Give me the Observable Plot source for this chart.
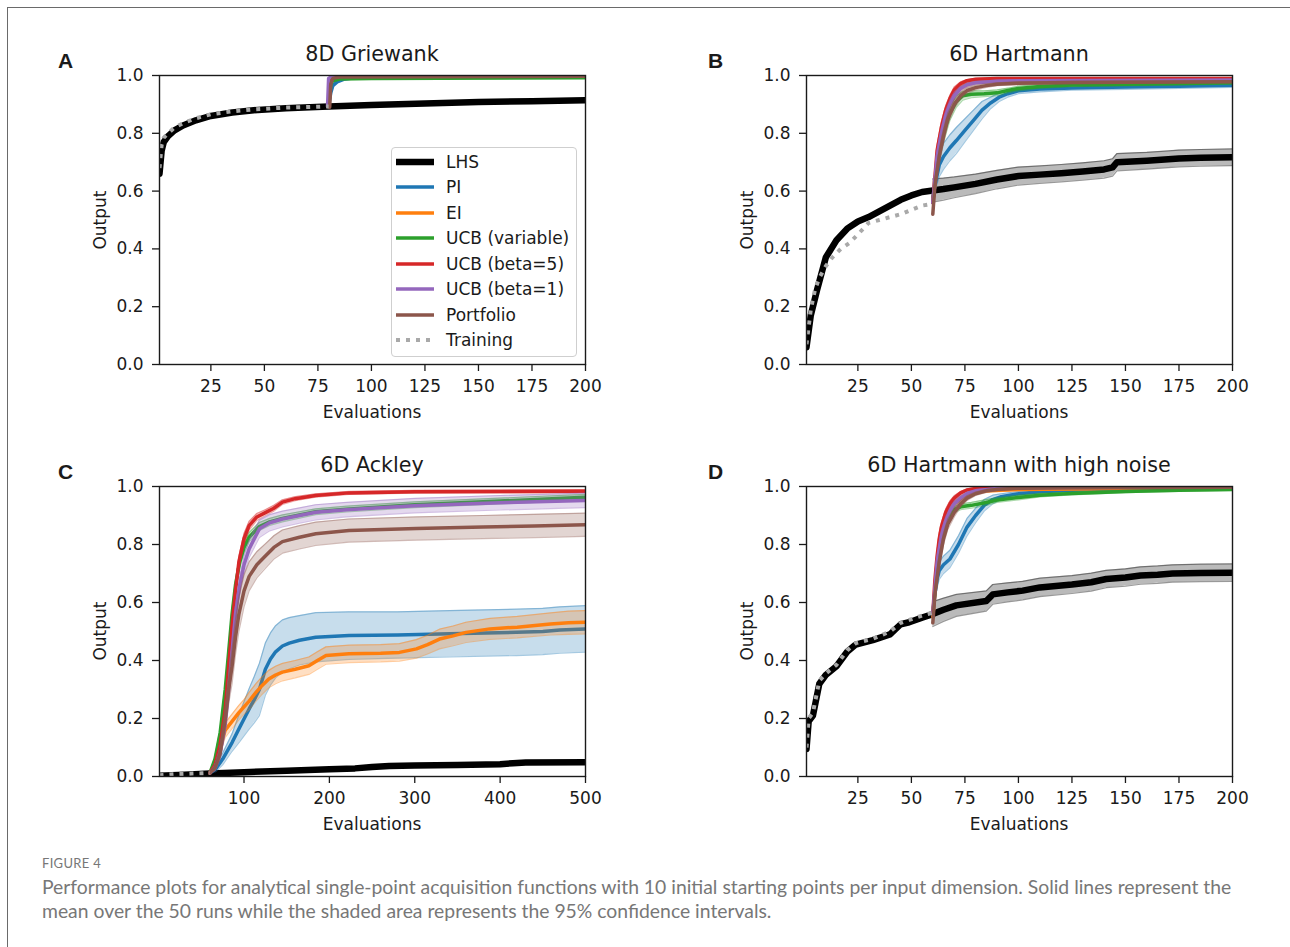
<!DOCTYPE html>
<html><head><meta charset="utf-8">
<script src="https://cdn.jsdelivr.net/npm/d3@7"></script>
<script src="https://cdn.jsdelivr.net/npm/@observablehq/plot@0.6"></script>
<style>
html,body{margin:0;padding:0;background:#fff;}
#root{position:relative;width:1290px;height:947px;overflow:hidden;font-family:"DejaVu Sans",sans-serif;color:#1a1a1a;background:#fff;}
.abs{position:absolute;white-space:nowrap;line-height:1;}
.c{transform:translate(-50%,-50%);}
.letter{font-family:"Liberation Sans",Arial,sans-serif;font-weight:bold;font-size:21px;transform:translate(0,-50%);}
.title{font-size:20.7px;}
.lab{font-size:17px;}
.rot{transform:translate(-50%,-50%) rotate(-90deg);}
.legend{position:absolute;border:1.3px solid #cfcfcf;border-radius:4px;background:rgba(255,255,255,0.85);box-sizing:border-box;}
.cap{font-family:Lato,"Open Sans",sans-serif;color:#777777;}
</style></head><body><div id="root"></div>
<script>
// ---------- labels ----------
const seriesNames = ["LHS","PI","EI","UCB (variable)","UCB (beta=5)","UCB (beta=1)","Portfolio","Training"];
const seriesColors = ["#000000","#1f77b4","#ff7f0e","#2ca02c","#d62728","#9467bd","#8c564b","#a9a9a9"];
const panelLetters = ["A","B","C","D"];
const panelTitles = ["8D Griewank","6D Hartmann","6D Ackley","6D Hartmann with high noise"];
const yTicks = [0,0.2,0.4,0.6,0.8,1.0];
const xTicks200 = [25,50,75,100,125,150,175,200];
const xTicks500 = [100,200,300,400,500];
const xLabel = "Evaluations";
const yLabel = "Output";
const figureLabel = "FIGURE 4";
const captionLines = [
  "Performance plots for analytical single-point acquisition functions with 10 initial starting points per input dimension. Solid lines represent the",
  "mean over the 50 runs while the shaded area represents the 95% confidence intervals."
];

// ---------- data: [evaluation, mean, ci half-width] ----------
// A: 8D Griewank
const griewankLHS = [[1,0.66],[2,0.74],[3,0.77],[5,0.79],[8,0.81],[12,0.827],[18,0.845],[25,0.86],[35,0.872],[45,0.88],[60,0.887],[80,0.893],[100,0.898],[125,0.903],[150,0.908],[175,0.911],[200,0.914]];
const griewankPI = [[80,0.893],[81,0.94],[82,0.965],[84,0.978],[87,0.987],[92,0.992],[100,0.994],[150,0.996],[200,0.997]];
const griewankEI = [[80,0.893],[81,0.98],[82,0.99],[85,0.994],[100,0.996],[200,0.997]];
const griewankUCBv = [[80,0.893],[81,0.97],[82,0.982],[85,0.988],[100,0.99],[200,0.992]];
const griewankUCB5 = [[80,0.893],[80.7,0.985],[82,0.994],[85,0.997],[200,0.998]];
const griewankUCB1 = [[79.5,0.893],[80,0.99],[81,0.995],[85,0.997],[200,0.998]];
const griewankPortfolio = [[80.5,0.89],[81,0.97],[82,0.99],[85,0.995],[200,0.997]];
const griewankTraining = [[1,0.68],[2,0.76],[3,0.785],[5,0.8],[8,0.82],[12,0.835],[18,0.852],[25,0.866],[35,0.876],[45,0.883],[60,0.889],[80,0.893]];

// B: 6D Hartmann
const hartmannLHS = [[1,0.06],[3,0.17],[6,0.26],[10,0.37],[15,0.43],[20,0.47],[25,0.495],[30,0.51],[35,0.53],[40,0.55],[45,0.57],[50,0.585],[55,0.597],[60,0.602,0.04],[65,0.607,0.038],[70,0.613,0.036],[80,0.625,0.034],[90,0.64,0.032],[100,0.652,0.031],[110,0.657,0.03],[120,0.662,0.03],[130,0.668,0.03],[140,0.675,0.03],[144,0.682,0.03],[146,0.7,0.03],[160,0.705,0.029],[170,0.71,0.029],[175,0.713,0.029],[185,0.715,0.029],[200,0.717,0.029]];
const hartmannPI = [[60,0.58,0],[61,0.62,0.02],[63,0.69,0.04],[65,0.72,0.045],[68,0.75,0.045],[71,0.775,0.045],[75,0.81,0.04],[79,0.845,0.035],[83,0.88,0.03],[87,0.905,0.02],[91,0.925,0.015],[95,0.937,0.012],[100,0.947,0.01],[110,0.953,0.01],[125,0.957,0.008],[150,0.96,0.008],[175,0.963,0.008],[200,0.966,0.007]];
const hartmannEI = [[60,0.56,0],[62,0.7,0.02],[65,0.83,0.02],[68,0.91,0.015],[72,0.955,0.01],[76,0.97,0.008],[80,0.978,0.006],[90,0.982,0.005],[100,0.984,0.005],[125,0.985,0.004],[150,0.986,0.004],[200,0.987,0.004]];
const hartmannUCBv = [[60,0.56,0],[62,0.7,0.03],[65,0.8,0.03],[68,0.87,0.025],[71,0.91,0.02],[74,0.93,0.015],[78,0.935,0.012],[84,0.937,0.01],[90,0.94,0.01],[95,0.948,0.008],[100,0.955,0.008],[110,0.962,0.007],[125,0.967,0.006],[150,0.97,0.006],[200,0.975,0.005]];
const hartmannUCB5 = [[60,0.56,0],[62,0.74,0.02],[64,0.82,0.02],[66,0.88,0.015],[68,0.92,0.012],[70,0.95,0.01],[73,0.972,0.006],[76,0.982,0.004],[80,0.987,0.003],[90,0.99,0.003],[100,0.99,0.003],[150,0.99,0.003],[200,0.99,0.003]];
const hartmannUCB1 = [[60,0.56,0],[62,0.72,0.02],[64,0.8,0.02],[66,0.86,0.018],[68,0.9,0.015],[70,0.93,0.012],[73,0.955,0.008],[76,0.968,0.006],[80,0.975,0.005],[90,0.98,0.004],[100,0.982,0.004],[150,0.983,0.004],[200,0.984,0.004]];
const hartmannPortfolio = [[60,0.52,0],[61,0.62,0.02],[63,0.72,0.025],[65,0.79,0.025],[67,0.85,0.02],[70,0.9,0.015],[73,0.93,0.012],[76,0.948,0.01],[80,0.958,0.008],[85,0.965,0.006],[90,0.97,0.005],[100,0.973,0.005],[125,0.976,0.004],[150,0.977,0.004],[200,0.978,0.004]];
const hartmannTraining = [[1,0.07],[3,0.19],[5,0.26],[7,0.3],[10,0.34],[13,0.37],[17,0.4],[21,0.42],[25,0.45],[30,0.49],[35,0.5],[40,0.51],[45,0.52],[50,0.535],[55,0.55],[60,0.556]];

// C: 6D Ackley
const ackleyLHS = [[1,0.003],[30,0.006],[60,0.01],[100,0.015],[150,0.02],[200,0.025],[230,0.028],[250,0.033],[270,0.036],[300,0.038],[350,0.04],[400,0.042],[415,0.046],[430,0.048],[500,0.049]];
const ackleyPI = [[60,0.012,0],[67,0.027,0.01],[75,0.06,0.02],[86,0.117,0.03],[95,0.17,0.05],[106,0.233,0.07],[112,0.265,0.08],[118,0.3,0.09],[125,0.37,0.09],[131,0.405,0.09],[137,0.43,0.09],[145,0.45,0.09],[153,0.46,0.088],[165,0.47,0.085],[184,0.48,0.085],[223,0.486,0.082],[280,0.488,0.08],[341,0.492,0.08],[419,0.497,0.08],[450,0.5,0.08],[470,0.505,0.08],[500,0.509,0.08]];
const ackleyEI = [[60,0.012,0],[67,0.048,0.015],[72,0.1,0.02],[78,0.16,0.025],[86,0.19,0.025],[94,0.22,0.025],[100,0.24,0.025],[106,0.26,0.03],[114,0.29,0.03],[120,0.31,0.03],[129,0.336,0.03],[137,0.35,0.03],[145,0.36,0.03],[160,0.37,0.03],[176,0.382,0.03],[186,0.4,0.03],[196,0.417,0.03],[223,0.423,0.03],[260,0.425,0.03],[282,0.428,0.03],[302,0.44,0.032],[315,0.455,0.032],[329,0.474,0.034],[345,0.485,0.034],[360,0.497,0.035],[388,0.509,0.036],[420,0.515,0.037],[459,0.526,0.038],[480,0.53,0.04],[500,0.532,0.04]];
const ackleyUCBv = [[60,0.012,0],[66,0.06,0.01],[72,0.15,0.015],[78,0.3,0.02],[82,0.43,0.02],[86,0.56,0.02],[90,0.66,0.02],[95,0.74,0.02],[100,0.79,0.018],[106,0.825,0.016],[118,0.862,0.014],[130,0.878,0.012],[145,0.89,0.012],[165,0.902,0.011],[184,0.913,0.01],[220,0.922,0.01],[300,0.937,0.01],[400,0.95,0.01],[500,0.963,0.01]];
const ackleyUCB5 = [[60,0.012,0],[66,0.04,0.005],[72,0.11,0.01],[78,0.23,0.02],[82,0.38,0.02],[86,0.52,0.02],[90,0.64,0.02],[94,0.74,0.02],[100,0.82,0.018],[106,0.865,0.015],[115,0.895,0.012],[125,0.91,0.01],[135,0.925,0.01],[145,0.946,0.008],[160,0.958,0.007],[184,0.969,0.006],[223,0.978,0.005],[300,0.982,0.005],[400,0.983,0.005],[500,0.984,0.005]];
const ackleyUCB1 = [[60,0.012,0],[66,0.03,0.01],[72,0.08,0.02],[78,0.18,0.03],[82,0.3,0.03],[86,0.43,0.03],[90,0.56,0.03],[95,0.66,0.03],[100,0.73,0.03],[106,0.785,0.03],[118,0.854,0.03],[130,0.875,0.028],[145,0.888,0.027],[165,0.9,0.026],[184,0.911,0.026],[220,0.92,0.025],[300,0.934,0.025],[400,0.944,0.025],[500,0.952,0.025]];
const ackleyPortfolio = [[60,0.012,0],[66,0.03,0.01],[72,0.08,0.02],[78,0.2,0.04],[82,0.3,0.05],[86,0.38,0.06],[90,0.48,0.06],[94,0.56,0.06],[100,0.64,0.055],[106,0.69,0.05],[115,0.73,0.045],[125,0.76,0.042],[135,0.79,0.04],[145,0.81,0.04],[165,0.825,0.04],[184,0.837,0.04],[223,0.848,0.04],[302,0.855,0.04],[380,0.86,0.04],[440,0.864,0.04],[500,0.868,0.04]];
const ackleyTraining = [[1,0.004],[10,0.006],[20,0.008],[30,0.009],[40,0.01],[50,0.011],[60,0.012]];

// D: 6D Hartmann with high noise
const noisyLHS = [[1,0.095],[2,0.19],[4,0.21],[7,0.32],[10,0.35],[15,0.38],[20,0.43],[24,0.455],[32,0.47],[40,0.49],[45,0.525],[49,0.532],[55,0.548],[60,0.56,0.043],[65,0.575,0.04],[71,0.59,0.038],[85,0.605,0.035],[88,0.628,0.034],[95,0.635,0.033],[102,0.641,0.032],[110,0.652,0.032],[125,0.662,0.031],[134,0.67,0.031],[141,0.681,0.03],[150,0.686,0.03],[157,0.693,0.03],[165,0.696,0.03],[172,0.7,0.03],[185,0.702,0.03],[200,0.703,0.03]];
const noisyPI = [[60,0.56,0],[61,0.63,0.02],[62,0.68,0.03],[63,0.71,0.03],[65,0.73,0.03],[68,0.75,0.03],[72,0.8,0.03],[76,0.86,0.03],[80,0.9,0.025],[84,0.935,0.02],[88,0.955,0.015],[92,0.965,0.01],[100,0.975,0.008],[110,0.982,0.006],[125,0.987,0.005],[150,0.991,0.004],[175,0.993,0.004],[200,0.995,0.004]];
const noisyEI = [[60,0.55,0],[62,0.72,0.02],[64,0.82,0.02],[67,0.9,0.015],[70,0.94,0.01],[74,0.965,0.008],[78,0.978,0.006],[85,0.985,0.005],[100,0.99,0.004],[150,0.993,0.003],[200,0.995,0.003]];
const noisyUCBv = [[60,0.56,0],[62,0.72,0.02],[64,0.82,0.02],[66,0.87,0.015],[68,0.9,0.012],[70,0.92,0.01],[73,0.93,0.01],[78,0.935,0.01],[85,0.945,0.01],[90,0.953,0.008],[100,0.962,0.008],[110,0.97,0.006],[125,0.976,0.005],[150,0.983,0.004],[175,0.987,0.004],[200,0.99,0.003]];
const noisyUCB5 = [[60,0.56,0],[61,0.68,0.02],[62,0.76,0.02],[63,0.82,0.02],[64,0.86,0.015],[66,0.91,0.012],[68,0.94,0.01],[70,0.96,0.008],[73,0.978,0.005],[76,0.988,0.004],[80,0.993,0.003],[90,0.996,0.002],[100,0.997,0.002],[200,0.998,0.002]];
const noisyUCB1 = [[60,0.56,0],[62,0.74,0.02],[64,0.83,0.02],[66,0.88,0.015],[68,0.915,0.012],[70,0.94,0.01],[73,0.96,0.008],[76,0.975,0.006],[80,0.985,0.004],[90,0.993,0.003],[100,0.996,0.002],[200,0.998,0.002]];
const noisyPortfolio = [[60,0.53,0],[61,0.63,0.02],[63,0.74,0.025],[65,0.82,0.02],[67,0.87,0.018],[70,0.91,0.015],[73,0.94,0.01],[76,0.96,0.008],[80,0.975,0.006],[85,0.985,0.005],[90,0.99,0.004],[100,0.994,0.003],[125,0.996,0.002],[200,0.997,0.002]];
const noisyTraining = [[1,0.1],[2,0.2],[4,0.22],[7,0.33],[10,0.355],[15,0.385],[20,0.435],[24,0.46],[32,0.475],[40,0.5],[45,0.53],[49,0.54],[55,0.555],[60,0.565]];

// ---------- layout (pixel placement of each panel's frame) ----------
const panels = [
  {series:[griewankLHS,griewankPI,griewankEI,griewankUCBv,griewankUCB5,griewankUCB1,griewankPortfolio,griewankTraining], xDomain:[1,200], xTicks:xTicks200, frame:[159,75,585,364], letterX:58, legend:true},
  {series:[hartmannLHS,hartmannPI,hartmannEI,hartmannUCBv,hartmannUCB5,hartmannUCB1,hartmannPortfolio,hartmannTraining], xDomain:[1,200], xTicks:xTicks200, frame:[806,75,1232,364], letterX:708},
  {series:[ackleyLHS,ackleyPI,ackleyEI,ackleyUCBv,ackleyUCB5,ackleyUCB1,ackleyPortfolio,ackleyTraining], xDomain:[1,500], xTicks:xTicks500, frame:[159,486,585,776], letterX:58},
  {series:[noisyLHS,noisyPI,noisyEI,noisyUCBv,noisyUCB5,noisyUCB1,noisyPortfolio,noisyTraining], xDomain:[1,200], xTicks:xTicks200, frame:[806,486,1232,776], letterX:708}
];
const lineWidths = [6.5,3.5,3.5,3.5,3.5,3.5,3.5,4];
const root = document.getElementById("root");

function addDiv(cls, text, left, top, extra) {
  const d = document.createElement("div");
  d.className = "abs " + cls;
  d.textContent = text;
  d.style.left = left + "px"; d.style.top = top + "px";
  if (extra) Object.assign(d.style, extra);
  root.appendChild(d);
  return d;
}

// figure border
const border = document.createElement("div");
Object.assign(border.style, {position:"absolute", left:"7px", top:"7px", width:"1300px", height:"960px", borderTop:"1.5px solid #6a6a6a", borderLeft:"1.5px solid #6a6a6a"});
root.appendChild(border);

const ML = 70, MR = 20, MT = 10, MB = 40;
panels.forEach((p, pi) => {
  const [fl, ft, fr, fb] = p.frame;
  const W = fr - fl + ML + MR, H = fb - ft + MT + MB;
  const marks = [];
  p.series.forEach((data, i) => {
    const rows = data.map(d => ({x: d[0], y: d[1]}));
    const band = data.filter(d => d.length > 2).map(d => ({x: d[0], lo: d[1] - d[2], hi: d[1] + d[2]}));
    const col = seriesColors[i];
    if (band.length) {
      marks.push(Plot.areaY(band, {x: "x", y1: "lo", y2: "hi", fill: col, fillOpacity: i === 0 ? 0.27 : 0.25, clip: true}));
      marks.push(Plot.line(band, {x: "x", y: "lo", stroke: col, strokeOpacity: 0.4, strokeWidth: 1.2, clip: true}));
      marks.push(Plot.line(band, {x: "x", y: "hi", stroke: col, strokeOpacity: 0.4, strokeWidth: 1.2, clip: true}));
    }
    marks.push(Plot.line(rows, {x: "x", y: "y", stroke: col, strokeWidth: lineWidths[i],
      strokeDasharray: i === 7 ? "4,6" : null, strokeLinecap: i === 7 ? "butt" : "round", strokeLinejoin: "round", clip: true}));
  });
  const svg = Plot.plot({
    width: W, height: H,
    marginLeft: ML, marginRight: MR, marginTop: MT, marginBottom: MB,
    x: {domain: p.xDomain},
    y: {domain: [0, 1]},
    style: {fontFamily: "DejaVu Sans", fontSize: "17px", color: "#1a1a1a", background: "transparent", overflow: "visible"},
    marks: [
      ...marks,
      Plot.frame({stroke: "#1a1a1a", strokeWidth: 1.4}),
      Plot.axisX({ticks: p.xTicks, tickSize: 7, tickPadding: 8, label: null, strokeWidth: 1.3}),
      Plot.axisY({ticks: yTicks, tickSize: 7, tickPadding: 9, tickFormat: d => d.toFixed(1), label: null, strokeWidth: 1.3})
    ]
  });
  svg.style.position = "absolute";
  svg.style.left = (fl - ML) + "px";
  svg.style.top = (ft - MT) + "px";
  svg.style.maxWidth = "none";
  root.appendChild(svg);

  const cx = (fl + fr) / 2, cy = (ft + fb) / 2;
  addDiv("title c", panelTitles[pi], cx, ft - 21);
  addDiv("letter", panelLetters[pi], p.letterX, ft - 15);
  addDiv("lab c", xLabel, cx, fb + 48);
  addDiv("lab rot", yLabel, fl - 59, cy);

  if (p.legend) {
    const lg = document.createElement("div");
    lg.className = "legend";
    Object.assign(lg.style, {left: "391px", top: "147px", width: "186px", height: "210px"});
    root.appendChild(lg);
    seriesNames.forEach((name, i) => {
      const y = 161.5 + i * 25.5;
      const sw = document.createElementNS("http://www.w3.org/2000/svg", "svg");
      sw.setAttribute("width", 40); sw.setAttribute("height", 12);
      Object.assign(sw.style, {position: "absolute", left: "395px", top: (y - 6) + "px"});
      const ln = document.createElementNS("http://www.w3.org/2000/svg", "line");
      ln.setAttribute("x1", 1); ln.setAttribute("x2", 39); ln.setAttribute("y1", 6); ln.setAttribute("y2", 6);
      ln.setAttribute("stroke", seriesColors[i]);
      ln.setAttribute("stroke-width", i === 0 ? 6.5 : (i === 7 ? 4 : 3.5));
      if (i === 7) ln.setAttribute("stroke-dasharray", "4,6");
      sw.appendChild(ln);
      root.appendChild(sw);
      addDiv("lab", name, 446, y, {transform: "translate(0,-50%)"});
    });
  }
});

// caption
addDiv("cap", figureLabel, 42, 863, {fontSize: "13px", transform: "translate(0,-50%)", letterSpacing: "0.3px"});
const c1 = addDiv("cap", captionLines[0], 42, 887, {fontSize: "17px", transform: "translate(0,-50%)"});
const fs = 17 * 1190 / c1.getBoundingClientRect().width;
c1.style.fontSize = fs + "px";
addDiv("cap", captionLines[1], 42, 911, {fontSize: fs + "px", transform: "translate(0,-50%)"});
</script></body></html>
